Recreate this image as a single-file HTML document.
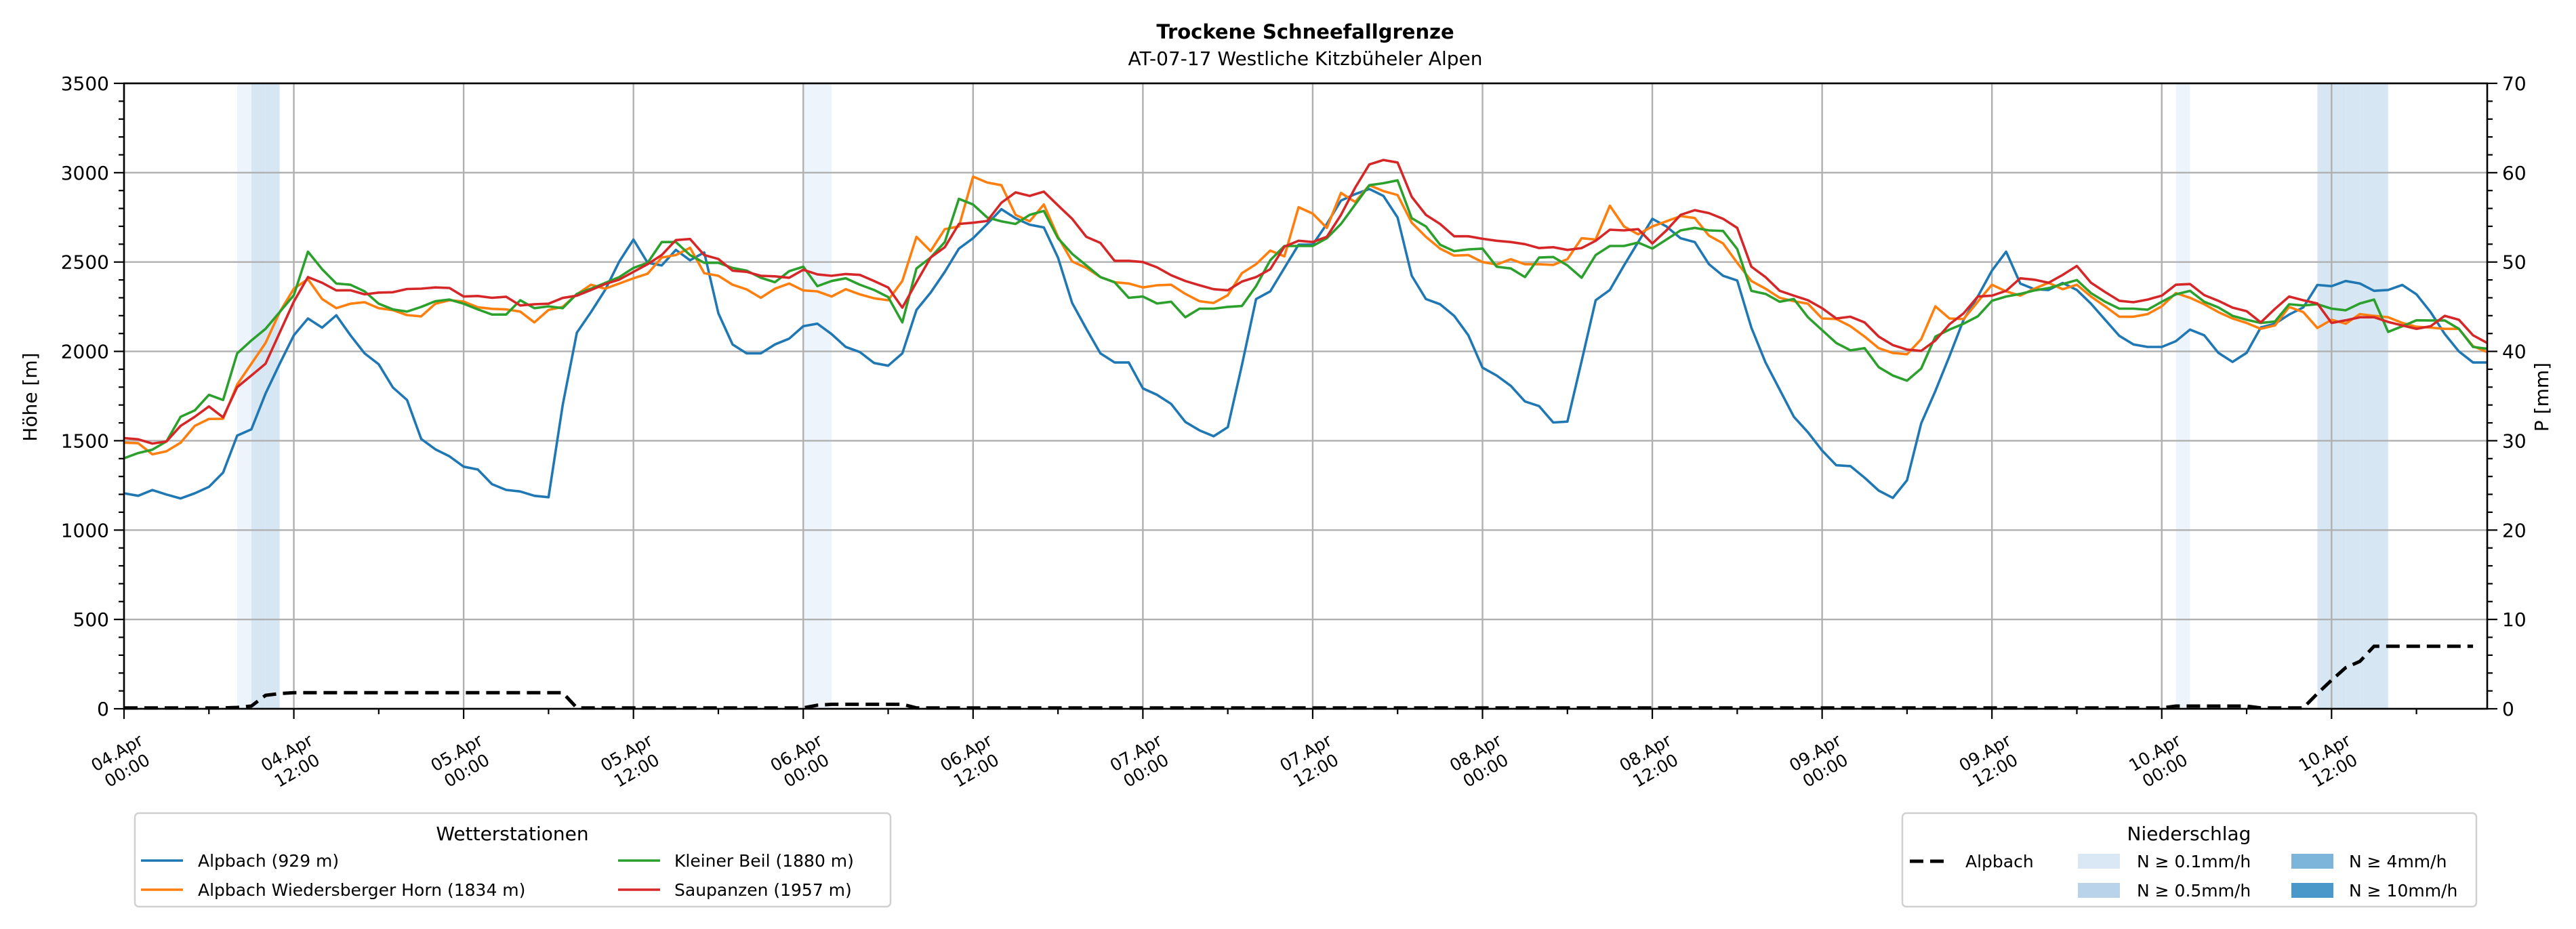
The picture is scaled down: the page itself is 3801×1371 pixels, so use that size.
<!DOCTYPE html>
<html><head><meta charset="utf-8"><style>
html,body{margin:0;padding:0;background:#fff;}
svg{display:block;font-family:"DejaVu Sans","Liberation Sans",sans-serif;}
</style></head><body>
<svg id="chart" width="3801" height="1371" viewBox="0 0 3801 1371" xmlns="http://www.w3.org/2000/svg">
<text x="1926" y="57" text-anchor="middle" font-size="29" font-weight="bold">Trockene Schneefallgrenze</text>
<text x="1926" y="96" text-anchor="middle" font-size="28">AT-07-17 Westliche Kitzbüheler Alpen</text>
<g id="bands"></g>
<g id="grid"></g>
<g id="series"></g>
<g id="axes"></g>
<text transform="translate(54,586) rotate(-90)" text-anchor="middle" font-size="28">Höhe [m]</text>
<text transform="translate(3760,586) rotate(-90)" text-anchor="middle" font-size="28">P [mm]</text>
<g>
<rect x="199" y="1200" width="1115" height="138" rx="6" fill="#fff" stroke="#d0d0d0" stroke-width="2.5"/>
<text x="756" y="1240" text-anchor="middle" font-size="28">Wetterstationen</text>
<line x1="208" y1="1270" x2="270" y2="1270" stroke="#1f77b4" stroke-width="3.6"/>
<text x="292" y="1279" font-size="25">Alpbach (929 m)</text>
<line x1="208" y1="1313" x2="270" y2="1313" stroke="#ff7f0e" stroke-width="3.6"/>
<text x="292" y="1322" font-size="25">Alpbach Wiedersberger Horn (1834 m)</text>
<line x1="912" y1="1270" x2="974" y2="1270" stroke="#2ca02c" stroke-width="3.6"/>
<text x="995" y="1279" font-size="25">Kleiner Beil (1880 m)</text>
<line x1="912" y1="1313" x2="974" y2="1313" stroke="#d62728" stroke-width="3.6"/>
<text x="995" y="1322" font-size="25">Saupanzen (1957 m)</text>
</g>
<g>
<rect x="2807" y="1200" width="847" height="138" rx="6" fill="#fff" stroke="#d0d0d0" stroke-width="2.5"/>
<text x="3230" y="1240" text-anchor="middle" font-size="28">Niederschlag</text>
<line x1="2818" y1="1271" x2="2874" y2="1271" stroke="#000" stroke-width="5" stroke-dasharray="20,10"/>
<text x="2900" y="1280" font-size="25">Alpbach</text>
<rect x="3066" y="1260" width="62" height="22" fill="#dae8f5"/>
<text x="3153" y="1280" font-size="25">N ≥ 0.1mm/h</text>
<rect x="3066" y="1303" width="62" height="22" fill="#b8d3ea"/>
<text x="3153" y="1323" font-size="25">N ≥ 0.5mm/h</text>
<rect x="3381" y="1260" width="62" height="22" fill="#7db4da"/>
<text x="3466" y="1280" font-size="25">N ≥ 4mm/h</text>
<rect x="3381" y="1303" width="62" height="22" fill="#4a97c9"/>
<text x="3466" y="1323" font-size="25">N ≥ 10mm/h</text>
</g>
</svg>
<script>
const alpbach = [1206,1192,1224,1199,1177,1206,1242,1322,1529,1564,1764,1931,2090,2184,2133,2202,2090,1989,1928,1798,1728,1510,1452,1413,1355,1339,1257,1225,1216,1192,1184,1700,2105,2220,2344,2503,2626,2496,2481,2568,2510,2554,
2213,2039,1989,1989,2039,2071,2141,2155,2097,2025,1996,1935,1920,1989,2232,2329,2445,2575,2633,2713,2796,2745,2709,2694,2525,2271,2126,1989,1938,1938,1793,1757,1706,1605,1558,1525,1576,1923,2293,2336,2467,2597,
2597,2713,2844,2880,2909,2870,2749,2423,2293,2264,2199,2090,1909,1865,1807,1720,1694,1602,1607,1945,2286,2344,2481,2612,2742,2699,2633,2612,2488,2423,2397,2133,1938,1786,1634,1547,1445,1363,1358,1293,1221,1180,
1279,1597,1778,1974,2177,2307,2452,2558,2380,2348,2344,2383,2344,2267,2177,2087,2039,2025,2025,2057,2122,2090,1992,1941,1992,2134,2155,2206,2246,2372,2365,2394,2380,2339,2344,2372,2319,2220,2097,2000,1938,1938];
const horn = [1489,1486,1424,1441,1489,1583,1622,1623,1815,1931,2047,2220,2351,2404,2293,2242,2267,2275,2242,2231,2203,2196,2267,2286,2279,2247,2238,2235,2223,2162,2232,2249,2319,2373,2351,2380,2409,2435,2525,2539,2580,2438,
2423,2373,2347,2300,2351,2380,2341,2336,2307,2348,2319,2297,2286,2394,2641,2561,2684,2699,2978,2945,2930,2764,2728,2822,2641,2503,2467,2416,2387,2380,2358,2370,2373,2322,2281,2271,2315,2438,2488,2564,2532,2807,
2771,2691,2887,2836,2930,2897,2875,2720,2641,2575,2536,2539,2500,2486,2516,2488,2488,2484,2516,2633,2626,2815,2699,2655,2699,2728,2757,2746,2648,2604,2496,2394,2351,2300,2281,2267,2184,2181,2141,2083,2018,1991,
1984,2068,2252,2184,2181,2278,2373,2336,2312,2351,2384,2348,2373,2307,2252,2194,2194,2209,2252,2326,2300,2264,2220,2184,2159,2126,2145,2249,2220,2131,2177,2155,2209,2199,2191,2159,2138,2133,2126,2126,2029,1996];
const beil = [1402,1431,1450,1496,1634,1670,1757,1728,1989,2061,2126,2220,2315,2558,2460,2380,2373,2336,2267,2235,2223,2249,2281,2290,2267,2235,2206,2206,2286,2242,2252,2242,2322,2351,2383,2416,2467,2496,2612,2612,2539,2496,
2496,2467,2452,2412,2387,2449,2474,2365,2394,2409,2373,2344,2304,2162,2464,2525,2612,2854,2822,2749,2728,2713,2764,2786,2633,2546,2481,2416,2387,2300,2307,2268,2278,2191,2239,2239,2249,2254,2365,2510,2590,2590,
2590,2633,2713,2822,2930,2941,2957,2745,2699,2597,2561,2571,2575,2474,2464,2416,2525,2528,2481,2412,2539,2590,2590,2609,2575,2626,2677,2691,2677,2674,2573,2339,2322,2278,2293,2191,2119,2047,2006,2018,1912,1865,
1836,1904,2083,2122,2155,2196,2283,2307,2322,2341,2354,2377,2399,2326,2278,2239,2239,2233,2278,2319,2339,2278,2246,2199,2177,2159,2167,2264,2257,2264,2239,2230,2268,2290,2109,2141,2174,2173,2173,2126,2025,2015];
const saupanzen = [1515,1508,1484,1496,1583,1634,1692,1631,1800,1865,1931,2105,2279,2416,2384,2341,2342,2319,2329,2331,2349,2351,2358,2355,2307,2310,2300,2306,2257,2264,2267,2299,2312,2344,2377,2402,2445,2488,2539,2623,2629,2539,
2517,2452,2445,2423,2420,2412,2457,2431,2423,2433,2428,2394,2358,2245,2387,2525,2583,2713,2720,2730,2832,2890,2870,2894,2817,2742,2641,2607,2507,2507,2500,2470,2426,2394,2370,2348,2342,2391,2416,2460,2586,2619,
2612,2641,2764,2916,3046,3071,3057,2865,2764,2713,2644,2644,2630,2619,2612,2600,2578,2583,2568,2578,2619,2681,2677,2684,2604,2677,2764,2790,2774,2742,2691,2474,2416,2339,2312,2286,2242,2184,2194,2162,2083,2035,
2010,2003,2061,2152,2213,2307,2312,2339,2409,2401,2384,2428,2478,2384,2332,2283,2275,2290,2312,2373,2377,2315,2283,2245,2225,2162,2238,2307,2286,2268,2159,2174,2191,2191,2165,2145,2126,2141,2199,2177,2090,2047];
const precipCum = [0.1,0.1,0.1,0.1,0.1,0.1,0.1,0.1,0.15,0.3,1.5,1.7,1.8,1.8,1.8,1.8,1.8,1.8,1.8,1.8,1.8,1.8,1.8,1.8,1.8,1.8,1.8,1.8,1.8,1.8,1.8,1.8,
0.1,0.1,0.1,0.1,0.1,0.1,0.1,0.1,0.1,0.1,0.1,0.1,0.1,0.1,0.1,0.1,0.1,0.4,0.5,0.5,0.5,0.5,0.5,0.5,0.1,0.1,0.1,0.1,0.1,0.1,0.1,0.1,0.1,0.1,
0.1,0.1,0.1,0.1,0.1,0.1,0.1,0.1,0.1,0.1,0.1,0.1,0.1,0.1,0.1,0.1,0.1,0.1,0.1,0.1,0.1,0.1,0.1,0.1,0.1,0.1,0.1,0.1,0.1,0.1,0.1,0.1,0.1,0.1,
0.1,0.1,0.1,0.1,0.1,0.1,0.1,0.1,0.1,0.1,0.1,0.1,0.1,0.1,0.1,0.1,0.1,0.1,0.1,0.1,0.1,0.1,0.1,0.1,0.1,0.1,0.1,0.1,0.1,0.1,0.1,0.1,0.1,0.1,
0.1,0.1,0.1,0.1,0.1,0.1,0.1,0.1,0.1,0.1,0.1,0.3,0.3,0.3,0.3,0.3,0.3,0.1,0.1,0.1,0.1,1.7,3.2,4.6,5.3,7.0,7.0,7.0,7.0,7.0,7.0,7.0,7.0];
const bandHours = [8,9,10,48,49,145,155,156,157,158,159];
const bandLevels = [1,2,2,1,1,1,2,2,2,2,2];
const yTicks = [0,500,1000,1500,2000,2500,3000,3500];
const y2Ticks = [0,10,20,30,40,50,60,70];
const xTickHours = [0,12,24,36,48,60,72,84,96,108,120,132,144,156];
const xTickLabels = [["04.Apr","00:00"],["04.Apr","12:00"],["05.Apr","00:00"],["05.Apr","12:00"],["06.Apr","00:00"],["06.Apr","12:00"],["07.Apr","00:00"],["07.Apr","12:00"],["08.Apr","00:00"],["08.Apr","12:00"],["09.Apr","00:00"],["09.Apr","12:00"],["10.Apr","00:00"],["10.Apr","12:00"]];

const NS="http://www.w3.org/2000/svg";
const X0=183,X1=3670,YT=123,YB=1046,HMAX=167;
const xs=h=>X0+(X1-X0)*h/HMAX;
const ys=v=>YB-(YB-YT)*v/3500;
const ys2=v=>YB-(YB-YT)*v/70;
function mk(tag,attrs,parent){const e=document.createElementNS(NS,tag);for(const k in attrs)e.setAttribute(k,attrs[k]);parent.appendChild(e);return e;}
const bands=document.getElementById('bands'),grid=document.getElementById('grid'),ser=document.getElementById('series'),axes=document.getElementById('axes');
bandHours.forEach((h,i)=>{
  const r=mk('rect',{x:xs(h),y:YT,width:xs(h+1)-xs(h),height:YB-YT,fill:bandLevels[i]===1?'#eef4fb':'#d7e6f3'},bands);
  
  
});
yTicks.forEach(v=>{
  const l=mk('line',{x1:X0,x2:X1,y1:ys(v),y2:ys(v),stroke:'#b0b0b0','stroke-width':2.4},grid);
  
  
});
xTickHours.forEach(h=>{
  const l=mk('line',{x1:xs(h),x2:xs(h),y1:YT,y2:YB,stroke:'#b0b0b0','stroke-width':2.4},grid);
  
  
});
const series=[[alpbach,'#1f77b4','line-alpbach'],[horn,'#ff7f0e','line-wiedersberger-horn'],[beil,'#2ca02c','line-kleiner-beil'],[saupanzen,'#d62728','line-saupanzen']];
series.forEach(([d,c,n])=>{
  const p=mk('polyline',{points:d.map((v,i)=>xs(i).toFixed(1)+','+ys(v).toFixed(1)).join(' '),fill:'none',stroke:c,'stroke-width':3.6,'stroke-linejoin':'round'},ser);
  
  
});
const pl=mk('polyline',{points:precipCum.map((v,i)=>xs(i).toFixed(1)+','+ys2(v).toFixed(1)).join(' '),fill:'none',stroke:'#000','stroke-width':5,'stroke-dasharray':'20,10'},ser);


// spines
const sp=mk('rect',{x:X0,y:YT,width:X1-X0,height:YB-YT,fill:'none',stroke:'#000','stroke-width':2.6},axes);


// y ticks
for(let v=0;v<=3500;v+=100){const major=v%500===0;mk('line',{x1:X0-(major?15:8),x2:X0,y1:ys(v),y2:ys(v),stroke:'#000','stroke-width':2.2},axes);}
for(let v=0;v<=70;v+=2){const major=v%10===0;mk('line',{x1:X1,x2:X1+(major?15:8),y1:ys2(v),y2:ys2(v),stroke:'#000','stroke-width':2.2},axes);}
yTicks.forEach(v=>{
  const t=mk('text',{x:X0-22,y:ys(v)+10,'text-anchor':'end','font-size':28},axes);t.textContent=v;
  
  
});
y2Ticks.forEach(v=>{
  const t=mk('text',{x:X1+22,y:ys2(v)+10,'text-anchor':'start','font-size':28},axes);t.textContent=v;
  
  
});
for(let h=0;h<=HMAX;h+=6){const major=h%12===0;mk('line',{x1:xs(h),x2:xs(h),y1:YB,y2:YB+(major?15:8),stroke:'#000','stroke-width':2.2},axes);}
xTickHours.forEach((h,i)=>{
  const cx=xs(h)-4,cy=1122;
  const t=mk('text',{transform:`translate(${cx},${cy}) rotate(-30)`,'text-anchor':'middle','font-size':25},axes);
  
  
  const a=mk('tspan',{x:0,y:-4},t);a.textContent=xTickLabels[i][0];
  const b=mk('tspan',{x:0,y:26},t);b.textContent=xTickLabels[i][1];
});
</script>
</body></html>
